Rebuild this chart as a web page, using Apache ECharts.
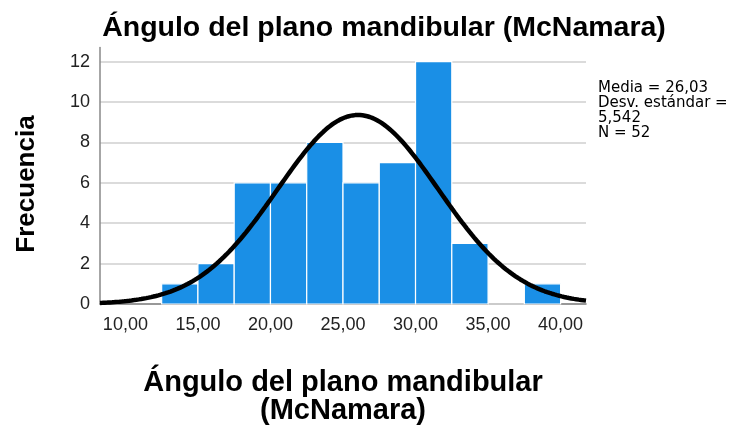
<!DOCTYPE html>
<html>
<head>
<meta charset="utf-8">
<style>
  html, body { margin: 0; padding: 0; background: #fff; }
  #chart { width: 734px; height: 425px; }
</style>
<script src="https://cdn.jsdelivr.net/npm/echarts@6/dist/echarts.min.js"></script>
</head>
<body>
<div id="chart"></div>
<script>
// Histogram bins (lower edge, upper edge) and counts
const binStarts = [12.5, 15.0, 17.5, 20.0, 22.5, 25.0, 27.5, 30.0, 32.5, 35.0, 37.5];
const binWidth = 2.5;
const counts = [1, 2, 6, 6, 8, 6, 7, 12, 3, 0, 1];

// Axis tick labels
const xTicks = [10, 15, 20, 25, 30, 35, 40];
const yTicks = [0, 2, 4, 6, 8, 10, 12];

// Summary statistics shown beside the plot
const mean = 26.03;
const sd = 5.542;
const n = 52;

const titleText = 'Ángulo del plano mandibular (McNamara)';
const xTitle = 'Ángulo del plano mandibular\n(McNamara)';
const yTitle = 'Frecuencia';
const statsLines = ['Media = 26,03', 'Desv. estándar =', '5,542', 'N = 52'];

const xMin = 8.25, xMax = 41.75;

// Fitted normal curve scaled to the histogram counts
const curve = [];
const steps = 200;
for (let i = 0; i <= steps; i++) {
  const x = xMin + (xMax - xMin) * i / steps;
  const z = (x - mean) / sd;
  const y = n * binWidth * Math.exp(-0.5 * z * z) / (sd * Math.sqrt(2 * Math.PI));
  curve.push([x, y]);
}

const barData = binStarts.map((s, i) => [s, s + binWidth, counts[i]]);
const fmt = v => v.toFixed(2).replace('.', ',');
const FONT = '"Liberation Sans", Arial, sans-serif';

const chart = echarts.init(document.getElementById('chart'), null, { renderer: 'canvas' });
chart.setOption({
  animation: false,
  textStyle: { fontFamily: FONT },
  grid: { left: 100, right: 148, top: 47.5, bottom: 121, containLabel: false, outerBoundsMode: 'none' },
  xAxis: {
    type: 'value',
    min: xMin,
    max: xMax,
    name: xTitle,
    nameLocation: 'middle',
    nameGap: 65,
    nameTextStyle: { fontSize: 29, fontWeight: 'bold', color: '#000', lineHeight: 28, fontFamily: FONT },
    axisLine: { show: true, onZero: false, lineStyle: { color: '#777', width: 1.5 } },
    axisTick: { show: false },
    splitLine: { show: false },
    axisLabel: {
      customValues: xTicks,
      formatter: v => fmt(v),
      fontSize: 18,
      color: '#222',
      margin: 12
    }
  },
  yAxis: {
    type: 'value',
    min: 0,
    max: 12.7,
    interval: 2,
    axisLine: { show: true, lineStyle: { color: '#888', width: 1.5 } },
    axisTick: { show: false },
    axisLabel: { customValues: yTicks, fontSize: 18, color: '#222', margin: 10 },
    splitLine: { show: true, showMinLine: false, showMaxLine: false, lineStyle: { color: '#cfcfcf', width: 1.5 } }
  },
  series: [
    {
      type: 'custom',
      data: barData,
      encode: { x: [0, 1], y: 2 },
      renderItem: function (params, api) {
        const p0 = api.coord([api.value(0), 0]);
        const p1 = api.coord([api.value(1), api.value(2)]);
        return {
          type: 'rect',
          shape: { x: p0[0], y: p1[1], width: p1[0] - p0[0], height: p0[1] - p1[1] },
          style: { fill: '#1a8fe6', stroke: '#ffffff', lineWidth: 1.2 }
        };
      },
      z: 2
    },
    {
      type: 'line',
      data: curve,
      showSymbol: false,
      smooth: false,
      lineStyle: { color: '#000', width: 4.5 },
      z: 3
    }
  ],
  graphic: [
    {
      type: 'text',
      x: 384,
      y: 14,
      style: {
        text: titleText,
        align: 'center',
        verticalAlign: 'top',
        font: 'bold 28.5px ' + FONT,
        fill: '#000'
      }
    },
    {
      type: 'text',
      x: 27,
      y: 184,
      rotation: Math.PI / 2,
      style: {
        text: yTitle,
        align: 'center',
        verticalAlign: 'middle',
        font: 'bold 26px ' + FONT,
        fill: '#000'
      }
    },
    {
      type: 'text',
      x: 598,
      y: 80,
      style: {
        text: statsLines.join('\n'),
        verticalAlign: 'top',
        font: '15px "DejaVu Sans", sans-serif',
        lineHeight: 15.3,
        fill: '#000'
      }
    }
  ]
});
</script>
</body>
</html>
